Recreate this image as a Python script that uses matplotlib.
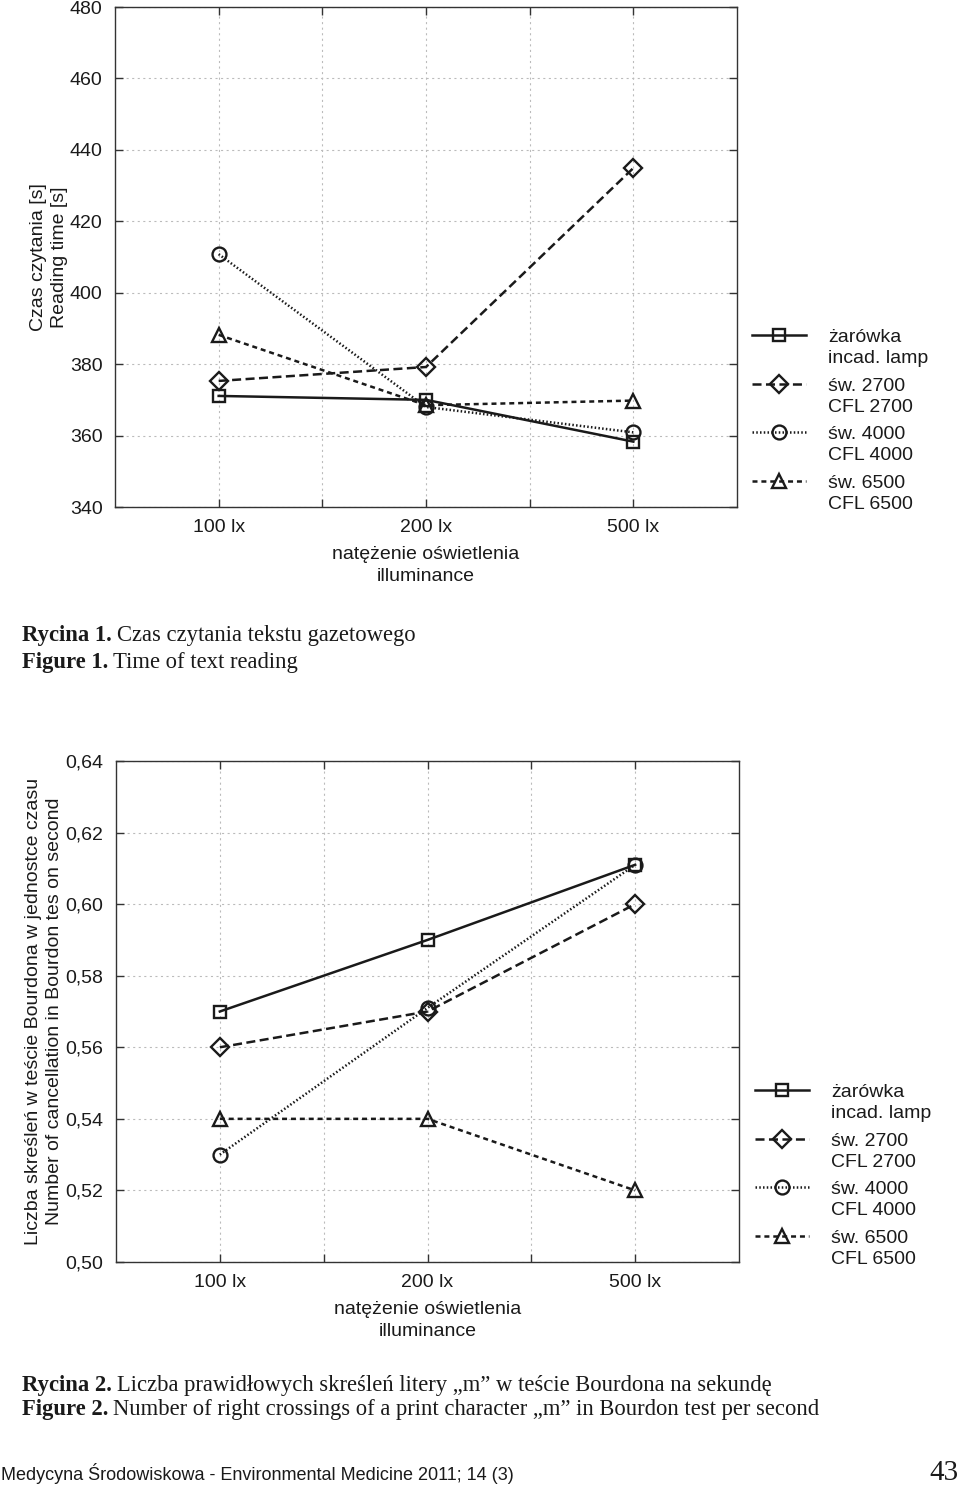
import numpy as np
import matplotlib
matplotlib.use("Agg")
import matplotlib.pyplot as plt
from matplotlib.legend_handler import HandlerLine2D

plt.rcParams['font.family'] = ['Liberation Sans', 'DejaVu Sans']
plt.rcParams['lines.scale_dashes'] = False

# --- data ---
illuminance = ['100 lx', '200 lx', '500 lx']
series_labels = ['żarówka\nincad. lamp', 'św. 2700\nCFL 2700',
                 'św. 4000\nCFL 4000', 'św. 6500\nCFL 6500']

reading_incad = [371.1, 370.0, 358.3]
reading_cfl2700 = [375.3, 379.2, 434.9]
reading_cfl4000 = [410.8, 368.0, 360.9]
reading_cfl6500 = [388.2, 368.5, 369.8]

bourdon_incad = [0.570, 0.590, 0.611]
bourdon_cfl2700 = [0.560, 0.570, 0.600]
bourdon_cfl4000 = [0.530, 0.571, 0.611]
bourdon_cfl6500 = [0.540, 0.540, 0.520]

reading_ticks = [340, 360, 380, 400, 420, 440, 460, 480]
bourdon_ticks = [0.50, 0.52, 0.54, 0.56, 0.58, 0.60, 0.62, 0.64]

# line styles per series
styles = [
    dict(linestyle='-', marker='s', markersize=9),
    dict(linestyle=(0, (6.5, 3.2)), marker='D', markersize=9),
    dict(linestyle=(0, (1.1, 1.6)), marker='o', markersize=10),
    dict(linestyle=(0, (3.6, 2.8)), marker='^', markersize=10.5),
]
INK = '#1a1a1a'
FS = 14
LS = 1.32


class FirstLineHandler(HandlerLine2D):
    # put the legend handle level with the first line of a two-line label
    def create_artists(self, legend, orig_handle, xdescent, ydescent,
                       width, height, fontsize, trans):
        artists = super().create_artists(legend, orig_handle, xdescent, ydescent,
                                         width, height, fontsize, trans)
        for a in artists:
            a.set_ydata(np.asarray(a.get_ydata(), dtype=float) + 0.66 * fontsize)
        return artists


def draw_panel(ax, series, ticks, ticklabels, ylabel, label_x):
    x = np.arange(len(illuminance))
    handles = []
    for vals, st, lab in zip(series, styles, series_labels):
        h, = ax.plot(x, vals, color=INK, linewidth=1.8, markerfacecolor='none',
                     markeredgecolor=INK, markeredgewidth=1.7, label=lab, **st)
        handles.append(h)
    ax.set_xlim(-0.5, 2.5)
    ax.set_ylim(ticks[0], ticks[-1])
    ax.set_xticks(x)
    ax.set_xticklabels(illuminance)
    ax.set_xticks([0.5, 1.5], minor=True)
    ax.set_yticks(ticks)
    ax.set_yticklabels(ticklabels)
    ax.tick_params(which='both', direction='in', top=True, right=True,
                   length=6, width=1, color='#333333', labelsize=FS,
                   labelcolor=INK)
    ax.tick_params(axis='x', which='both', pad=8.5)
    ax.tick_params(axis='y', pad=9)
    ax.grid(True, which='both', color='#bbbbbb', linestyle=(0, (1.5, 2.5)),
            linewidth=0.8)
    ax.set_axisbelow(True)
    for s in ax.spines.values():
        s.set_color('#333333')
        s.set_linewidth(1.0)
    ax.set_xlabel('natężenie oświetlenia\nilluminance', fontsize=FS, color=INK,
                  labelpad=7, linespacing=1.4)
    ax.set_ylabel(ylabel, fontsize=FS, color=INK, linespacing=LS)
    ax.yaxis.set_label_coords(label_x, 0.5)
    return handles


fig = plt.figure(figsize=(9.6, 14.85), dpi=100)

ax1 = fig.add_axes([115 / 960, 1 - 507 / 1485, 622 / 960, 500 / 1485])
h1 = draw_panel(ax1, [reading_incad, reading_cfl2700, reading_cfl4000, reading_cfl6500],
                reading_ticks, [str(t) for t in reading_ticks],
                'Czas czytania [s]\nReading time [s]', -0.076)

ax2 = fig.add_axes([116 / 960, 1 - 1262 / 1485, 623 / 960, 501 / 1485])
h2 = draw_panel(ax2, [bourdon_incad, bourdon_cfl2700, bourdon_cfl4000, bourdon_cfl6500],
                bourdon_ticks, [f'{t:.2f}'.replace('.', ',') for t in bourdon_ticks],
                'Liczba skreśleń w teście Bourdona w jednostce czasu\n'
                'Number of cancellation in Bourdon tes on second', -0.085)

leg_kw = dict(loc='upper left', frameon=False, fontsize=FS, handlelength=2.78,
              handletextpad=1.13, labelspacing=0.54, borderpad=0, borderaxespad=0,
              handler_map={matplotlib.lines.Line2D: FirstLineHandler()})
leg1 = fig.legend(handles=h1, bbox_to_anchor=(752 / 960, 1 - 329 / 1485), **leg_kw)
leg2 = fig.legend(handles=h2, bbox_to_anchor=(755 / 960, 1 - 1084 / 1485), **leg_kw)
for lg in (leg1, leg2):
    for t in lg.get_texts():
        t.set_color(INK)
        t.set_linespacing(LS)

# --- captions ---
serif = ['Liberation Serif', 'DejaVu Serif']
CAP_FS = 16.3


def caption(y, head, body):
    t = fig.text(22 / 960, 1 - y / 1485, head, family=serif, fontsize=CAP_FS,
                 fontweight='bold', color=INK, va='center', ha='left')
    fig.canvas.draw()
    bb = t.get_window_extent()
    fig.text((bb.x1 + 5) / 960, 1 - y / 1485, body, family=serif, fontsize=CAP_FS,
             color=INK, va='center', ha='left')


caption(636, 'Rycina 1.', 'Czas czytania tekstu gazetowego')
caption(662, 'Figure 1.', 'Time of text reading')
caption(1385, 'Rycina 2.', 'Liczba prawidłowych skreśleń litery „m” w teście Bourdona na sekundę')
caption(1410, 'Figure 2.', 'Number of right crossings of a print character „m” in Bourdon test per second')

fig.text(1 / 960, 1 - 1473 / 1485, 'Medycyna Środowiskowa - Environmental Medicine 2011; 14 (3)',
         fontsize=13, color=INK, va='center', ha='left')
fig.text(958 / 960, 1 - 1473 / 1485, '43', family=serif, fontsize=21, color=INK,
         va='center', ha='right')

fig.savefig('out.png', dpi=100)
